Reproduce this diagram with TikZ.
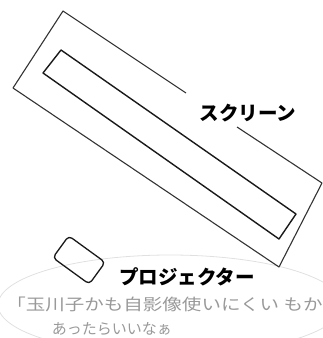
\documentclass[tikz,border=0pt]{standalone}
\usepackage{fontspec}
\newfontfamily\jpfont{Noto Sans CJK JP}
\usetikzlibrary{positioning}
\begin{document}
\begin{tikzpicture}[x=1pt,y=-1pt]
    \useasboundingbox (0,0) rectangle (323,338);
    \draw [color=black!12, line width=0.8pt] (170,305) ellipse [x radius=172, y radius=50];
    \draw [color=black!80, line width=1.1pt, line join=round] (186,93) -- (63,11) -- (13,88) -- (279,267) -- (322,183) -- (237,127);
    \draw [color=black!90, line width=1.4pt, line join=round] (61,50) -- (296,214) -- (279,239) -- (43,73) -- cycle;
    \node (screen) at (248,113) {\jpfont\bfseries\fontsize{19.5}{20}\selectfont スクリーン};
    \node (projector) [draw=black!90, line width=1.3pt, rounded corners=4pt, rotate=-36, minimum width=45pt, minimum height=27pt, inner sep=0pt] at (79,260) {};
    \node (projlabel) at (187,277) {\jpfont\bfseries\fontsize{19.5}{20}\selectfont プロジェクター};
    \node (note) [color=black!40, anchor=west, xscale=1.22, transform shape] at (2,304) {\jpfont\fontsize{16}{17}\selectfont 「玉川子かも自影像使いにくい もか};
    \node (note2) [color=black!40] at (112,329) {\jpfont\fontsize{15}{16}\selectfont あったらいいなぁ};
\end{tikzpicture}
\end{document}
